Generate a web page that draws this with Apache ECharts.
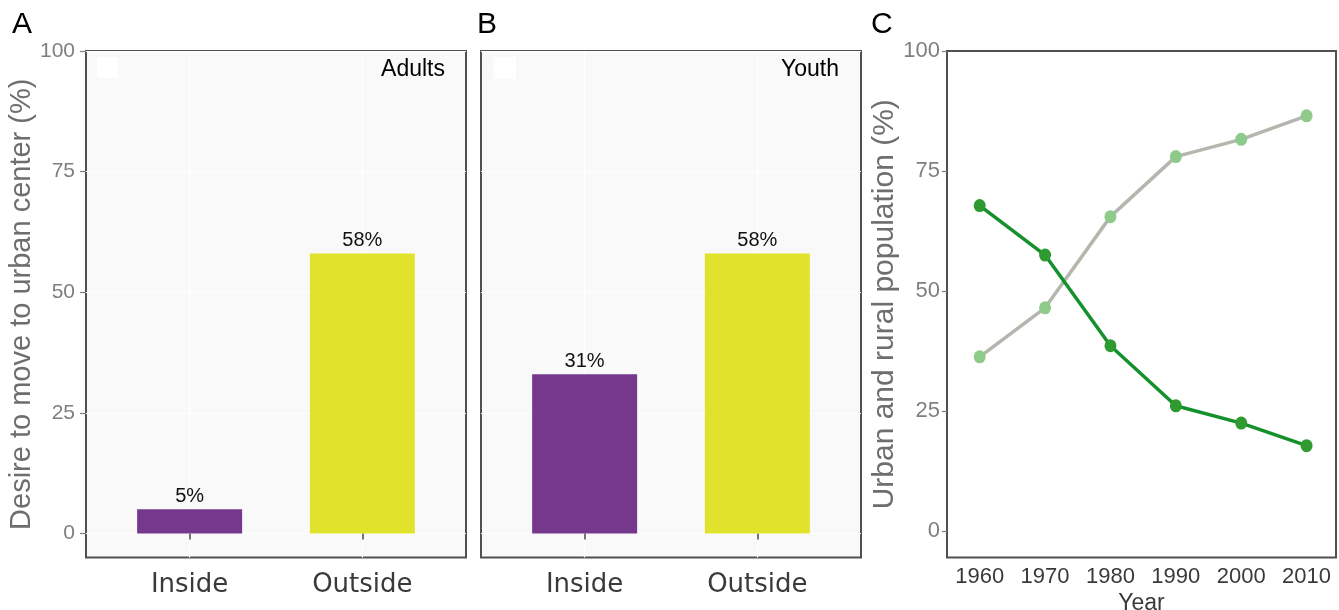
<!DOCTYPE html>
<html><head><meta charset="utf-8">
<script src="https://cdn.jsdelivr.net/npm/echarts@6/dist/echarts.min.js"></script>
<style>html,body{margin:0;padding:0;background:#fff}#c{width:1339px;height:610px}</style>
</head><body><div id="c"></div>
<script>
// ---- data ----
const categories = ['Inside', 'Outside'];
const adultValues = [5, 58];
const adultLabels = ['5%', '58%'];
const youthValues = [33, 58];
const youthLabels = ['31%', '58%'];
const barColors = ['#75388c', '#e1e22b'];
const panelTitles = ['Adults', 'Youth'];
const yTicks = [0, 25, 50, 75, 100];
const years = [1960, 1970, 1980, 1990, 2000, 2010];
const ruralPct = [67.8, 57.5, 38.6, 26.1, 22.5, 17.8];
const urbanPct = [36.3, 46.5, 65.5, 78.0, 81.6, 86.5];

const FONT = 'Liberation Sans';
const catPos = categories.map((c, i) => i + 1);

function barData(vals) {
  return vals.map((v, i) => ({ value: [catPos[i], v], itemStyle: { color: barColors[i] } }));
}

function barGrid(left) {
  return { left: left, top: 51, width: 380, height: 506.5, show: true,
    backgroundColor: '#f9f9f9', borderColor: '#505050', borderWidth: 2, outerBoundsMode: 'none' };
}
function barX(idx) {
  return { type: 'value', gridIndex: idx, min: 0.4, max: 2.6,
    axisLine: { show: false },
    axisTick: { show: true, customValues: catPos, length: 6, lineStyle: { color: '#444', width: 1.5 } },
    axisLabel: { customValues: catPos, formatter: v => categories[Math.round(v) - 1],
      fontSize: 26, fontFamily: 'DejaVu Sans', color: '#3a3a3a', margin: 15 },
    splitLine: { show: true, lineStyle: { color: '#ffffff', width: 1.2 } } };
}
function barY(idx, showLabels) {
  return { type: 'value', gridIndex: idx, min: -5, max: 100,
    axisLine: { show: false },
    axisTick: { show: showLabels, customValues: yTicks, length: 6, lineStyle: { color: '#7f7f7f', width: 1.2 } },
    axisLabel: { show: showLabels, customValues: yTicks, fontSize: 21, fontFamily: FONT, color: '#7f7f7f', margin: 11 },
    splitLine: { show: true, lineStyle: { color: '#ffffff', width: 1.2 } },
    name: showLabels ? 'Desire to move to urban center (%)' : '',
    nameLocation: 'middle', nameGap: 46,
    nameTextStyle: { fontSize: 29, fontFamily: FONT, color: '#6e6e6e' } };
}
function barSeries(idx, vals, labels) {
  return { type: 'bar', xAxisIndex: idx, yAxisIndex: idx, barWidth: 105,
    data: barData(vals),
    label: { show: true, position: 'top', distance: 3, fontSize: 20, fontFamily: FONT, color: '#111',
      formatter: p => labels[p.dataIndex] } };
}

const chart = echarts.init(document.getElementById('c'), null, { renderer: 'canvas' });
chart.setOption({
  animation: false,
  backgroundColor: '#ffffff',
  grid: [
    barGrid(86),
    barGrid(481),
    { left: 947, top: 51, width: 389, height: 506.5, show: true, backgroundColor: '#ffffff',
      borderColor: '#505050', borderWidth: 2, outerBoundsMode: 'none' }
  ],
  xAxis: [
    barX(0), barX(1),
    { type: 'value', gridIndex: 2, min: 1955, max: 2014.5,
      axisLine: { show: false }, axisTick: { show: false, customValues: years },
      axisLabel: { customValues: years, fontSize: 22, fontFamily: FONT, color: '#3a3a3a', margin: 8,
        formatter: v => String(v) },
      splitLine: { show: false },
      name: 'Year', nameLocation: 'middle', nameGap: 34,
      nameTextStyle: { fontSize: 23, fontFamily: FONT, color: '#3a3a3a' } }
  ],
  yAxis: [
    barY(0, true), barY(1, false),
    { type: 'value', gridIndex: 2, min: -5.5, max: 100,
      axisLine: { show: false },
      axisTick: { show: true, customValues: yTicks, length: 5, lineStyle: { color: '#7f7f7f', width: 1.2 } },
      axisLabel: { customValues: yTicks, fontSize: 22, fontFamily: FONT, color: '#7f7f7f', margin: 7 },
      splitLine: { show: false },
      name: 'Urban and rural population (%)', nameLocation: 'middle', nameGap: 41,
      nameTextStyle: { fontSize: 30, fontFamily: FONT, color: '#6e6e6e' } }
  ],
  series: [
    barSeries(0, adultValues, adultLabels),
    barSeries(1, youthValues, youthLabels),
    { type: 'line', xAxisIndex: 2, yAxisIndex: 2, name: 'Urban',
      data: years.map((y, i) => [y, urbanPct[i]]),
      symbol: 'circle', symbolSize: [12, 13],
      lineStyle: { color: '#b4b7ad', width: 3.5 },
      itemStyle: { color: '#8ecb8a' } },
    { type: 'line', xAxisIndex: 2, yAxisIndex: 2, name: 'Rural',
      data: years.map((y, i) => [y, ruralPct[i]]),
      symbol: 'circle', symbolSize: [12, 13],
      lineStyle: { color: '#14902c', width: 3.5 },
      itemStyle: { color: '#2e9a30' } }
  ],
  graphic: [
    { type: 'text', left: 12, top: 10, style: { text: 'A', fontSize: 30, fontFamily: FONT, fill: '#000' } },
    { type: 'text', left: 477, top: 10, style: { text: 'B', fontSize: 30, fontFamily: FONT, fill: '#000' } },
    { type: 'text', left: 871, top: 10, style: { text: 'C', fontSize: 30, fontFamily: FONT, fill: '#000' } },
    { type: 'text', right: 1339 - 445, top: 58, style: { text: panelTitles[0], fontSize: 23, fontFamily: FONT, fill: '#000' } },
    { type: 'text', right: 1339 - 839, top: 58, style: { text: panelTitles[1], fontSize: 23, fontFamily: FONT, fill: '#000' } },
    { type: 'rect', left: 97, top: 57, shape: { width: 21, height: 21 }, style: { fill: '#ffffff' } },
    { type: 'rect', left: 494, top: 57, shape: { width: 22, height: 22 }, style: { fill: '#ffffff' } }
  ]
});
</script>
</body></html>
